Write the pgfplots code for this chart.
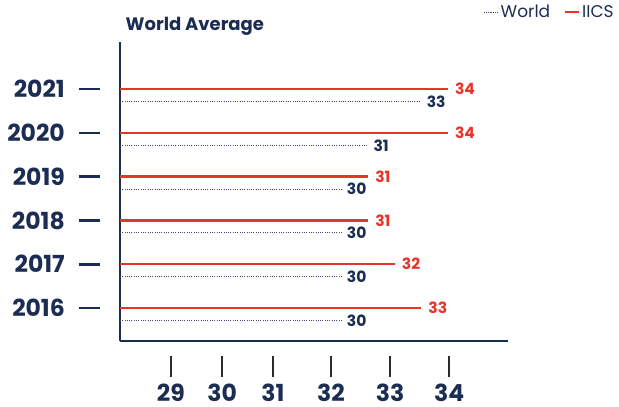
\documentclass[border=0pt]{standalone}
\usepackage{fontspec}
\usepackage{pgfplots}
\usepackage{pgfplotstable}
\pgfplotsset{compat=1.18}
\setmainfont{Poppins}

\definecolor{navy}{HTML}{1B2D52}
\definecolor{iicsred}{HTML}{E8352A}
\definecolor{worlddot}{HTML}{3B4A6B}
\definecolor{tickgray}{HTML}{2B2B2B}

% year, IICS, world average
\pgfplotstableread{
year iics world
2016 33 30
2017 32 30
2018 31 30
2019 31 30
2020 34 31
2021 34 33
}\scores

\begin{document}
\begin{tikzpicture}
\useasboundingbox (0,0) rectangle (619pt,407pt);
\begin{axis}[
    at={(120pt,66pt)}, anchor=south west,
    scale only axis,
    width=388pt, height=299pt,
    xmin=21.68, xmax=36.26,
    ymin=2015.247, ymax=2022.073,
    axis lines*=left,
    axis line style={navy, line width=2pt},
    tick align=outside,
    xtick pos=bottom, ytick pos=left,
    xtick={23.59,25.52,27.43,29.61,31.83,34.05},
    xticklabels={29,30,31,32,33,34},
    ytick={2016,2017,2018,2019,2020,2021},
    yticklabels={2016,2017,2018,2019,2020,2021},
    major tick length=21pt,
    xtick style={tickgray, line width=2.6pt, yshift=-15pt},
    ytick style={navy, line width=2.6pt, xshift=-20pt},
    ticklabel style={font=\bfseries\fontsize{23.5}{26}\selectfont, text=navy, inner sep=0pt},
    xticklabel style={anchor=base, yshift=-40pt},
    yticklabel style={xshift=-34pt},
    /pgf/number format/assume math mode=true,
    every axis title shift=0pt,
    title={World Average},
    title style={font=\bfseries\fontsize{18}{20}\selectfont, text=navy,
        at={(0.0142,1.0378)}, anchor=base west, inner sep=0pt},
    legend columns=2,
    legend style={draw=none, fill=none, inner sep=0pt,
        at={(1.278,1.099)}, anchor=east,
        font=\fontsize{17}{19}\selectfont, text=navy,
        /tikz/every even column/.append style={column sep=12pt}},
    nodes near coords,
    point meta=x,
]
\addplot[xcomb, worlddot, line width=1.1pt, dash pattern=on 1pt off 1.3pt,
    nodes near coords style={anchor=west, inner sep=0pt, xshift=5pt,
        font=\bfseries\fontsize{15.5}{17}\selectfont, text=navy, solid},
    legend image code/.code={\draw[worlddot, line width=0.9pt, dash pattern=on 0.8pt off 1pt] (0pt,0pt) -- (14pt,0pt);}]
    table[x=world, y expr=\thisrow{year}-0.285] {\scores};
\addlegendentry{World}
\addplot[xcomb, iicsred, line width=2.5pt,
    nodes near coords style={anchor=west, inner sep=0pt, xshift=6pt,
        font=\bfseries\fontsize{15.5}{17}\selectfont, text=iicsred},
    legend image code/.code={\draw[iicsred, line width=2pt] (0pt,0pt) -- (14pt,0pt);}]
    table[x=iics, y=year] {\scores};
\addlegendentry{IICS}
\end{axis}
\end{tikzpicture}
\end{document}
